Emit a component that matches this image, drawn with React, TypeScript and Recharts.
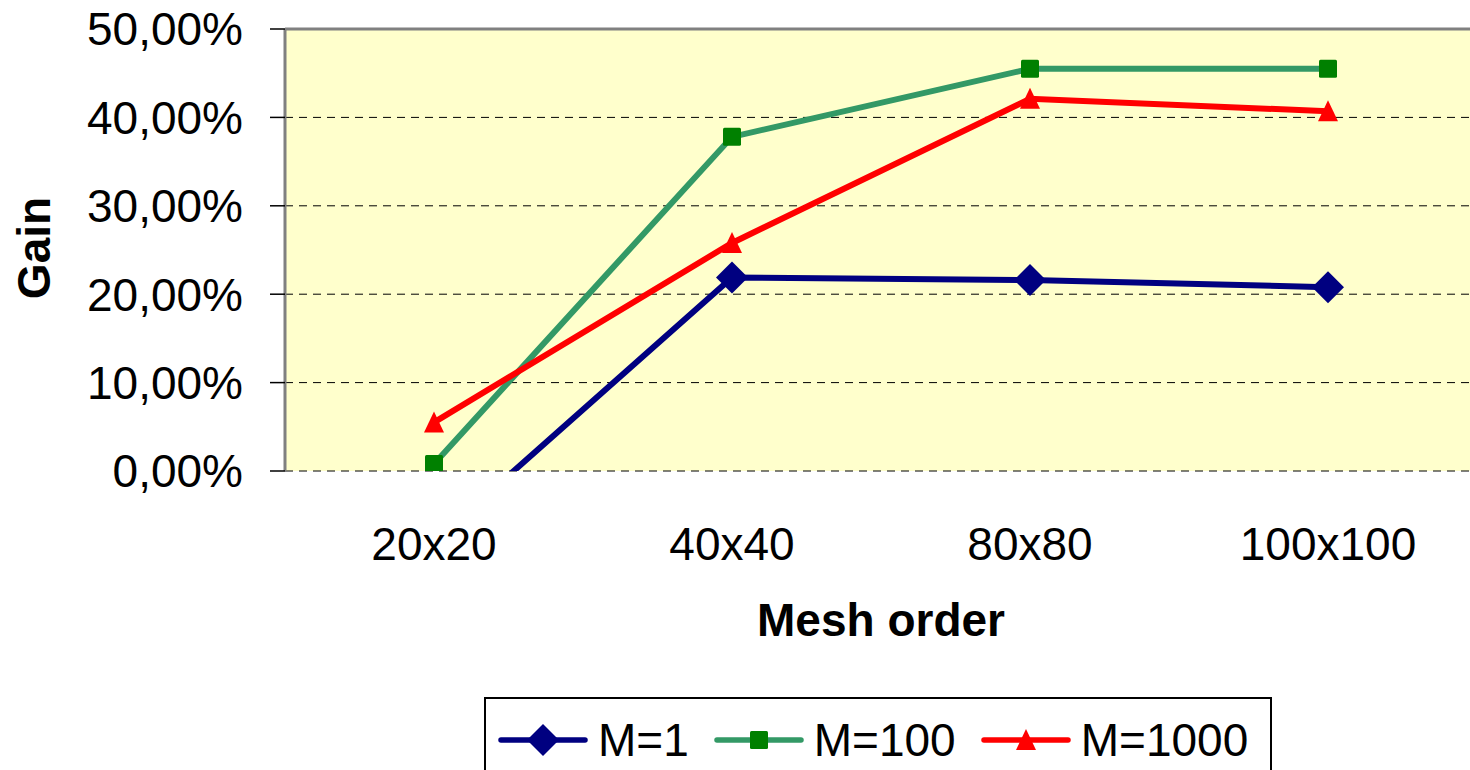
import React from "react";
import {
  LineChart,
  Line,
  CartesianGrid,
  XAxis,
  YAxis,
  ReferenceLine,
} from "recharts";

const categories = ["20x20", "40x40", "80x80", "100x100"];
const m1 = [-0.08, 0.219, 0.216, 0.208];
const m100 = [0.008, 0.378, 0.455, 0.455];
const m1000 = [0.055, 0.258, 0.421, 0.407];
const yTicks = [0, 0.1, 0.2, 0.3, 0.4, 0.5];
const boundaryTicks = [-0.5, 0.5, 1.5, 2.5, 3.5];

const FONT = "'Liberation Sans', Arial, sans-serif";

const chartData = categories.map((name, i) => ({
  idx: i,
  name,
  m1: m1[i],
  m100: m100[i],
  m1000: m1000[i],
}));

const pct = (v: number) => (v * 100).toFixed(2).replace(".", ",") + "%";

const Diamond = (props: any) => {
  const { cx, cy } = props;
  if (cx == null || cy == null) return <g key={props.key} />;
  const r = 16;
  return (
    <path
      key={props.key}
      d={`M${cx},${cy - r}L${cx + r},${cy}L${cx},${cy + r}L${cx - r},${cy}Z`}
      fill="#000080"
    />
  );
};

const Square = (props: any) => {
  const { cx, cy } = props;
  if (cx == null || cy == null) return <g key={props.key} />;
  return (
    <rect key={props.key} x={cx - 9} y={cy - 9} width={18} height={18} rx={1.5} fill="#008000" />
  );
};

const Triangle = (props: any) => {
  const { cx, cy } = props;
  if (cx == null || cy == null) return <g key={props.key} />;
  return (
    <path
      key={props.key}
      d={`M${cx},${cy - 11}L${cx + 10},${cy + 10}L${cx - 10},${cy + 10}Z`}
      fill="#FF0000"
    />
  );
};

const GainLabel = (props: any) => {
  const vb = props.viewBox || { x: 0, y: 0, height: 0 };
  const cx = vb.x + 34;
  const cy = vb.y + vb.height / 2 - 2;
  return (
    <text
      x={cx}
      y={cy}
      transform={`rotate(-90, ${cx}, ${cy})`}
      textAnchor="middle"
      dominantBaseline="central"
      fontFamily={FONT}
      fontWeight="bold"
      fontSize={46}
      fill="#000"
    >
      Gain
    </text>
  );
};

const legendItems = [
  { label: "M=1", color: "#000080", marker: "diamond" },
  { label: "M=100", color: "#339966", marker: "square" },
  { label: "M=1000", color: "#FF0000", marker: "triangle" },
];

function LegendIcon({ color, marker }: { color: string; marker: string }) {
  return (
    <svg width={90} height={40} style={{ display: "block" }}>
      <line x1={3} y1={20} x2={87} y2={20} stroke={color} strokeWidth={5.5} strokeLinecap="round" />
      {marker === "diamond" && <path d="M45,4L61,20L45,36L29,20Z" fill="#000080" />}
      {marker === "square" && <rect x={36} y={11} width={18} height={18} rx={1.5} fill="#008000" />}
      {marker === "triangle" && <path d="M45,9L55,30L35,30Z" fill="#FF0000" />}
    </svg>
  );
}

export default function App() {
  return (
    <div
      style={{
        position: "absolute",
        left: 0,
        top: 0,
        width: 1470,
        height: 770,
        overflow: "hidden",
        background: "#fff",
        fontFamily: FONT,
      }}
    >
      <LineChart
        width={1477}
        height={770}
        data={chartData}
        margin={{ top: 29, right: 0, bottom: 0, left: 0 }}
      >
        <CartesianGrid
          vertical={false}
          xAxisId={0}
          fill="#FFFFCC"
          fillOpacity={1}
          stroke="#000"
          strokeDasharray="8 6"
        />
        <XAxis
          xAxisId={0}
          type="number"
          dataKey="idx"
          domain={[-0.5, 3.5]}
          ticks={boundaryTicks}
          interval={0}
          height={0}
          tickSize={15}
          tick={() => <g />}
          axisLine={{ stroke: "#808080", strokeWidth: 3 }}
          tickLine={{ stroke: "#000", strokeWidth: 1.5 }}
        />
        <XAxis
          xAxisId={1}
          type="number"
          dataKey="idx"
          domain={[-0.5, 3.5]}
          ticks={[0, 1, 2, 3]}
          interval={0}
          height={299}
          axisLine={false}
          tickLine={false}
          tickSize={0}
          tickMargin={56}
          tickFormatter={(v: number) => categories[v]}
          tick={{ fontSize: 46, fill: "#000", fontFamily: FONT }}
          label={{
            value: "Mesh order",
            position: "insideTop",
            offset: 132,
            fontSize: 46,
            fontWeight: "bold",
            fill: "#000",
            fontFamily: FONT,
          }}
        />
        <YAxis
          width={285}
          domain={[0, 0.5]}
          allowDataOverflow
          ticks={yTicks}
          interval={0}
          tickFormatter={pct}
          tickSize={15}
          tickMargin={27}
          axisLine={{ stroke: "#808080", strokeWidth: 3 }}
          tickLine={{ stroke: "#000", strokeWidth: 1.5 }}
          tick={{ fontSize: 46, fill: "#000", fontFamily: FONT }}
          label={<GainLabel />}
        />
        <ReferenceLine y={0.5} xAxisId={0} stroke="#808080" strokeWidth={3} />
        <Line
          xAxisId={1}
          type="linear"
          dataKey="m1"
          name="M=1"
          stroke="#000080"
          strokeWidth={6}
          dot={(p: any) => <Diamond {...p} />}
          activeDot={false}
          isAnimationActive={false}
        />
        <Line
          xAxisId={1}
          type="linear"
          dataKey="m100"
          name="M=100"
          stroke="#339966"
          strokeWidth={6}
          dot={(p: any) => <Square {...p} />}
          activeDot={false}
          isAnimationActive={false}
        />
        <Line
          xAxisId={1}
          type="linear"
          dataKey="m1000"
          name="M=1000"
          stroke="#FF0000"
          strokeWidth={6}
          dot={(p: any) => <Triangle {...p} />}
          activeDot={false}
          isAnimationActive={false}
        />
      </LineChart>
      <div
        style={{
          position: "absolute",
          left: 484,
          top: 697,
          width: 788,
          height: 90,
          border: "2px solid #000",
          background: "#fff",
          boxSizing: "border-box",
          display: "flex",
          alignItems: "flex-start",
          paddingLeft: 12,
          paddingTop: 20,
        }}
      >
        {legendItems.map((it) => (
          <div key={it.label} style={{ display: "flex", alignItems: "center", marginRight: 25 }}>
            <LegendIcon color={it.color} marker={it.marker} />
            <span style={{ fontSize: 46, lineHeight: "42px", marginLeft: 10, color: "#000" }}>
              {it.label}
            </span>
          </div>
        ))}
      </div>
    </div>
  );
}
